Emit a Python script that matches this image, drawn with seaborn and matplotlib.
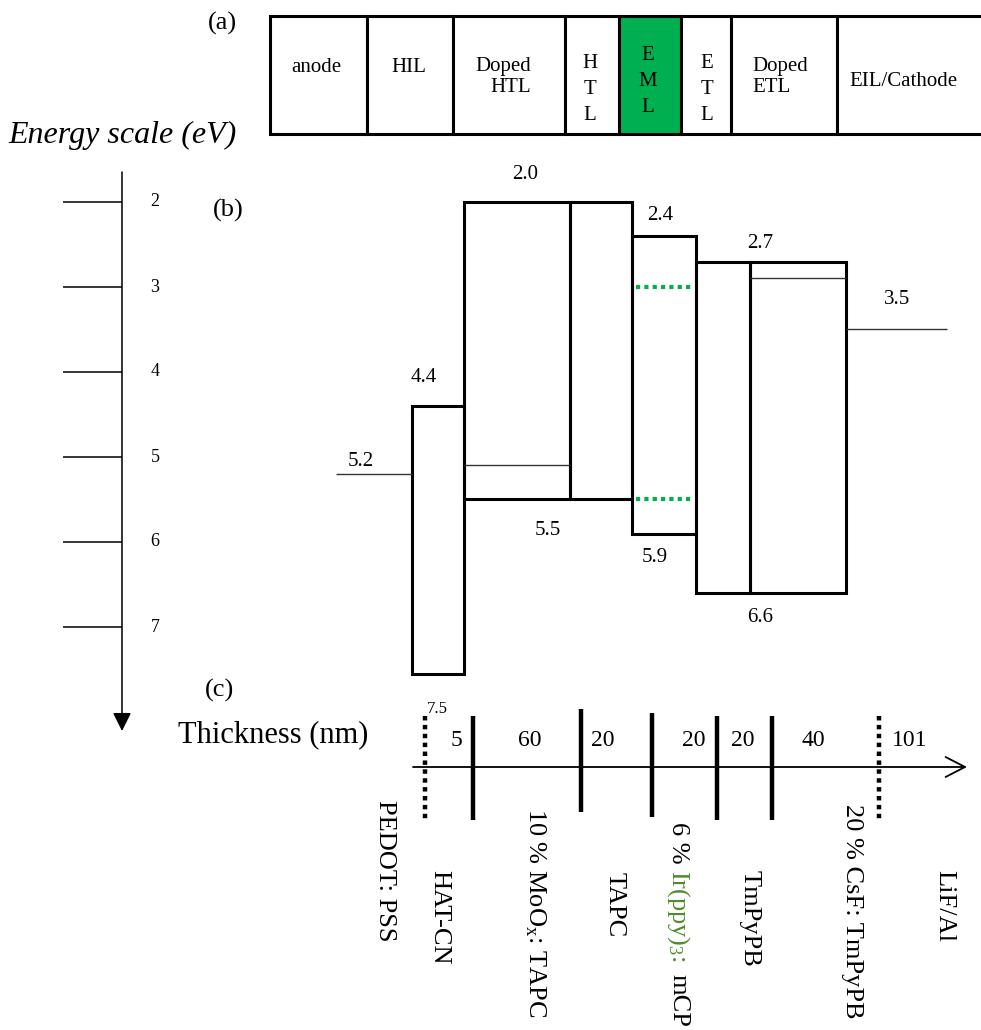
import numpy as np
import seaborn as sns
import matplotlib.pyplot as plt

sns.set_theme(style="white")
plt.rcParams["font.family"] = ["Liberation Serif", "DejaVu Serif"]
plt.rcParams["text.color"] = "black"
plt.rcParams["mathtext.fontset"] = "custom"
plt.rcParams["mathtext.rm"] = "Liberation Serif"
plt.rcParams["mathtext.it"] = "Liberation Serif:italic"

# ---- data ----
# (a) generic device structure
cells = ["anode", "HIL", "Doped\nHTL", "H\nT\nL", "E\nM\nL", "E\nT\nL", "Doped\nETL", "EIL/Cathode"]

# (b) energy levels in eV
materials = ["HAT-CN", "MoOx:TAPC", "TAPC", "Ir(ppy)3:mCP", "TmPyPB", "CsF:TmPyPB"]
lumo = [4.4, 2.0, 2.0, 2.4, 2.7, 2.7]
homo = [7.55, 5.5, 5.5, 5.9, 6.6, 6.6]
anode_wf = 5.2
cathode_wf = 3.5
dopant_htl = 5.1
dopant_etl = 2.9
irppy_levels = [3.0, 5.5]
energy_labels = [2.0, 2.4, 2.7, 3.5, 4.4, 5.2, 5.5, 5.9, 6.6]
scale_ticks = [2, 3, 4, 5, 6, 7]

# (c) layer thickness in nm
layer_names = ["PEDOT: PSS", "HAT-CN", "10 % MoO$_\\mathrm{x}$: TAPC", "TAPC",
               "6 % Ir(ppy)$_\\mathrm{3}$: mCP", "TmPyPB", "20 % CsF: TmPyPB", "LiF/Al"]
thickness = [7.5, 5, 60, 20, 20, 20, 40, 101]

# ---- layout (pixels) ----
W, H = 981, 1030
fig = plt.figure(figsize=(W / 100, H / 100), dpi=100)
ax = fig.add_axes([0, 0, 1, 1])
ax.set_xlim(0, W)
ax.set_ylim(H, 0)
ax.axis("off")

# energy axes: linear eV scale, 2 eV at 202 px, 85 px per eV
Y0, PX_EV = 202, 85
top_px, bot_px = 150, 740
def ev(px):
    return 2.0 + (px - Y0) / PX_EV

axe = fig.add_axes([0, 1 - bot_px / H, 1, (bot_px - top_px) / H])
axe.set_xlim(0, W)
axe.set_ylim(ev(bot_px), ev(top_px))
axe.axis("off")
axe.patch.set_alpha(0)

# ---- (a) structure bar ----
cell_left = [270, 367, 453, 565, 619, 681, 731, 837]
cell_width = list(np.diff(cell_left)) + [170]
cell_colors = ["white"] * 8
cell_colors[4] = "#00b050"
ax.barh(75, cell_width, left=cell_left, height=118, color=cell_colors,
        edgecolor="black", linewidth=2.2)
cell_tx = [316, 409, 503, 590, 648, 707, 752, 903]
cell_ty = [67, 67, 77, 90, 81, 90, 77, 81]
for i, c in enumerate(cells):
    ha = "left" if c == "Doped\nETL" else "center"
    ma = "right" if c == "Doped\nHTL" else ("left" if ha == "left" else "center")
    stacked = c.count("\n") == 2
    ax.text(cell_tx[i], cell_ty[i], c, ha=ha, va="center", multialignment=ma,
            fontsize=15, linespacing=1.5 if stacked else 1.2)

ax.text(222, 23, "(a)", fontsize=19, ha="center", va="center")
ax.text(228, 210, "(b)", fontsize=19, ha="center", va="center")
ax.text(220, 690, "(c)", fontsize=19, ha="center", va="center")
ax.text(123, 135, "Energy scale (eV)", fontsize=23, style="italic", ha="center", va="center")
ax.text(273, 735, "Thickness (nm)", fontsize=22, ha="center", va="center")

# ---- (b) energy diagram ----
box_left = [412, 464, 570, 632, 696, 750]
box_width = [52, 106, 62, 64, 54, 96]
axe.bar(box_left, np.subtract(homo, lumo), bottom=lumo, width=box_width, align="edge",
        fill=False, edgecolor="black", linewidth=2.2)
axe.hlines(dopant_htl, 464, 570, colors="#333333", linewidth=1.0)
axe.hlines(dopant_etl, 750, 846, colors="#333333", linewidth=1.0)
axe.hlines(anode_wf, 336, 412, colors="#333333", linewidth=1.0)
axe.hlines(cathode_wf, 846, 947, colors="#333333", linewidth=1.0)
axe.hlines(irppy_levels, 636, 692, colors="#00b050", linewidth=3, linestyles=[(0, (1, 1))])

label_x = [525, 660, 760, 897, 424, 361, 548, 655, 760]
label_dy = [-27, -20, -18, -30, -28, -13, 31, 24, 25]
for v, x, dy in zip(energy_labels, label_x, label_dy):
    axe.annotate(f"{v:.1f}", xy=(x, v), xytext=(0, -dy * 0.72), textcoords="offset points",
                 ha="center", va="center", fontsize=15)

# energy scale
axe.annotate("", xy=(122, ev(731)), xytext=(122, ev(172)),
             arrowprops=dict(arrowstyle="-|>", color="black", lw=1.1,
                             mutation_scale=28, shrinkA=0, shrinkB=0))
axe.hlines(scale_ticks, 63, 122, colors="black", linewidth=1.1)
for t in scale_ticks:
    axe.text(155, t, str(t), ha="center", va="center", fontsize=13)

# ---- (c) thickness axis ----
ax.annotate("", xy=(967, 767), xytext=(413, 767),
            arrowprops=dict(arrowstyle="->,head_length=0.7,head_width=0.36", color="black",
                            lw=1.3, mutation_scale=20, shrinkA=0, shrinkB=0))
sep_x = [425, 473, 581, 652, 717, 772, 879]
sep_top = [716, 716, 709, 713, 716, 716, 716]
sep_bot = [820, 820, 812, 817, 820, 820, 820]
for i, x in enumerate(sep_x):
    dotted = i in (0, len(sep_x) - 1)
    ax.vlines(x, sep_top[i], sep_bot[i], colors="black", linewidth=3.2,
              linestyles=[(0, (1, 1))] if dotted else "solid")

thick_x = [437, 456, 530, 603, 694, 743, 813, 910]
for i, t in enumerate(thickness):
    small = i == 0
    ax.text(thick_x[i], 709 if small else 740, f"{t:g}", ha="center", va="center",
            fontsize=12 if small else 17)

name_x = [385, 439, 535, 615, 678, 750, 852, 944]
name_top = [800, 870, 808, 872, 823, 870, 804, 870]
for i, name in enumerate(layer_names):
    if "Ir(ppy)" in name:
        ax.text(name_x[i], 822, "6 %", rotation=270, ha="center", va="top", fontsize=19)
        ax.text(name_x[i], 870, "Ir(ppy)$_\\mathrm{3}$:", rotation=270, ha="center", va="top",
                fontsize=19, color="#4e8a2c")
        ax.text(name_x[i], 974, "mCP", rotation=270, ha="center", va="top", fontsize=19)
    else:
        ax.text(name_x[i], name_top[i], name, rotation=270, ha="center", va="top", fontsize=19)

fig.savefig("out.png", dpi=100)
